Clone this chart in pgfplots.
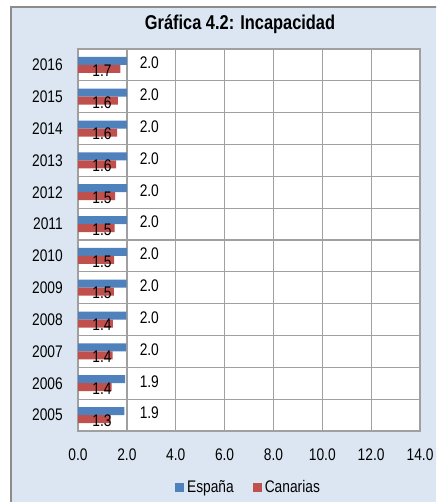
\documentclass[border=0pt]{standalone}
\usepackage{pgfplots}
\pgfplotsset{compat=1.18}
\usepackage{fontspec}
\setmainfont[FakeStretch=0.82]{Liberation Sans}
\definecolor{espana}{HTML}{4F81BD}
\definecolor{canarias}{HTML}{C0504D}
\definecolor{bgblue}{HTML}{DCE6F2}
\definecolor{framegray}{HTML}{8C8C8C}
\definecolor{gridgray}{HTML}{A0A0A0}
\newcommand{\lblfont}{\fontsize{16.8}{19}\selectfont}
\begin{document}
\begin{tikzpicture}[x=1pt,y=1pt]
\useasboundingbox (0,0) rectangle (436,502);
\fill[white] (0,0) rectangle (436,502);
\begin{scope}
\clip (0,0) rectangle (436,502);
\filldraw[fill=bgblue, draw=framegray, line width=2pt] (11,-20) rectangle (460,495);
\end{scope}
\node[anchor=base, font=\fontsize{20}{24}\selectfont\bfseries] at (240,472) {Gráfica 4.2: Incapacidad};
\begin{axis}[
  at={(78pt,71pt)}, anchor=south west,
  scale only axis, width=342pt, height=382pt,
  axis background/.style={fill=white},
  axis line style={gridgray, line width=1.3pt},
  xmin=0, xmax=14, xtick={0,2,...,14},
  ymin=-0.5, ymax=11.5, ytick={0,...,11},
  yticklabels={2005,2006,2007,2008,2009,2010,2011,2012,2013,2014,2015,2016},
  minor ytick={0.5,1.5,...,10.5},
  xmajorgrids, yminorgrids,
  major grid style={gridgray, line width=1.3pt},
  minor grid style={gridgray, line width=1.3pt},
  major tick length=0pt, minor tick length=0pt,
  tick label style={font=\lblfont, inner sep=0pt},
  yticklabel style={xshift=-15pt},
  xticklabel style={yshift=-18pt, /pgf/number format/.cd, fixed, fixed zerofill, precision=1, assume math mode=true},
  legend columns=2,
  legend style={draw=none, fill=none, at={(0.5,-0.147)}, anchor=center, font=\lblfont,
    nodes={inner xsep=3pt},
    /tikz/every even column/.append style={column sep=16pt}},
  clip=false,
]
\addplot[xbar, bar width=8pt, bar shift=4pt, fill=espana, draw=none,
  legend image code/.code={\fill[espana] (0pt,-4.5pt) rectangle (9pt,4.5pt);}]
  coordinates {(1.90,0) (1.93,1) (1.97,2) (1.98,3) (1.99,4) (2.00,5) (2.00,6) (2.00,7) (2.00,8) (2.00,9) (2.00,10) (2.00,11)};
\addlegendentry{España}
\addplot[xbar, bar width=8pt, bar shift=-4pt, fill=canarias, draw=none,
  legend image code/.code={\fill[canarias] (0pt,-4.5pt) rectangle (9pt,4.5pt);}]
  coordinates {(1.34,0) (1.38,1) (1.42,2) (1.43,3) (1.47,4) (1.48,5) (1.50,6) (1.52,7) (1.56,8) (1.60,9) (1.63,10) (1.73,11)};
\addlegendentry{Canarias}
% data labels
\addplot[forget plot, draw=none, mark=none, nodes near coords, point meta=explicit symbolic,
  every node near coord/.style={anchor=center, font=\lblfont, text=black, inner sep=0pt, yshift=2pt}]
  coordinates {(2.92,0) [1.9] (2.92,1) [1.9] (2.92,2) [2.0] (2.92,3) [2.0] (2.92,4) [2.0] (2.92,5) [2.0]
               (2.92,6) [2.0] (2.92,7) [2.0] (2.92,8) [2.0] (2.92,9) [2.0] (2.92,10) [2.0] (2.92,11) [2.0]};
\addplot[forget plot, draw=none, mark=none, nodes near coords, point meta=explicit symbolic,
  every node near coord/.style={anchor=center, font=\lblfont, text=black, inner sep=0pt, yshift=-5.5pt}]
  coordinates {(0.98,0) [1.3] (0.98,1) [1.4] (0.98,2) [1.4] (0.98,3) [1.4] (0.98,4) [1.5] (0.98,5) [1.5]
               (0.98,6) [1.5] (0.98,7) [1.5] (0.98,8) [1.6] (0.98,9) [1.6] (0.98,10) [1.6] (0.98,11) [1.7]};
\end{axis}
\end{tikzpicture}
\end{document}
